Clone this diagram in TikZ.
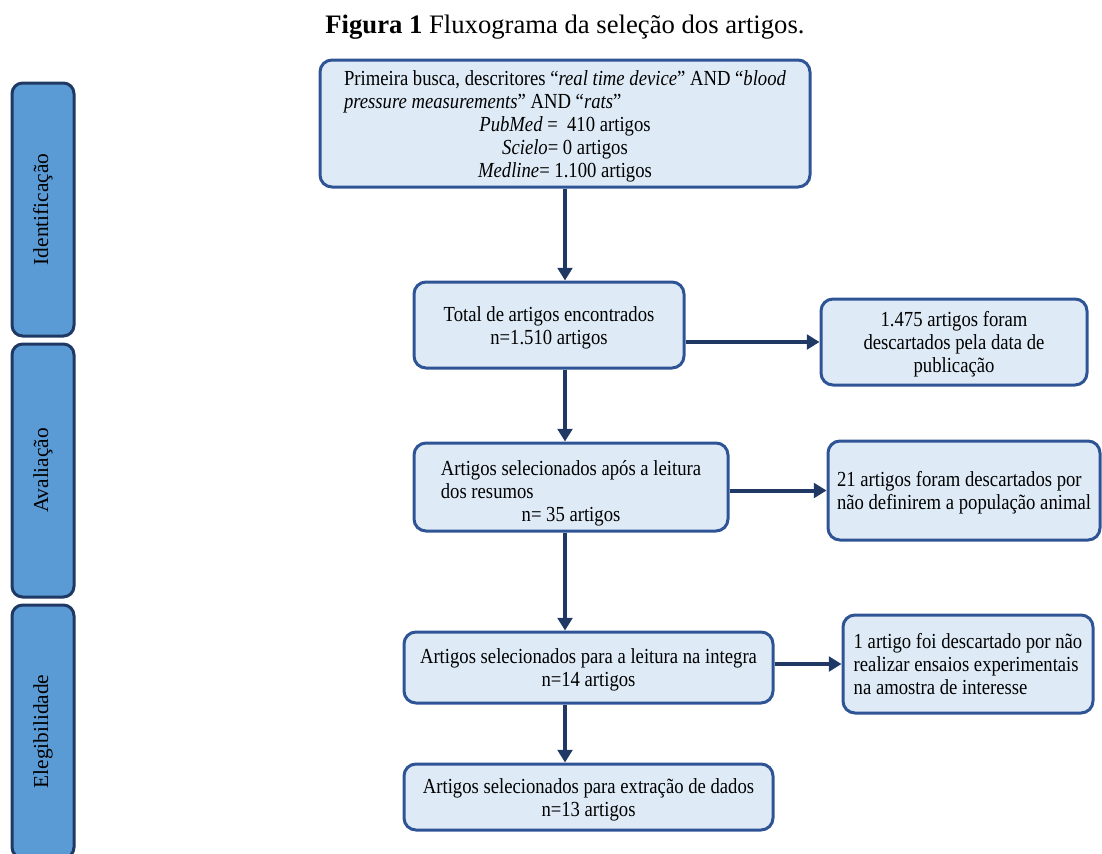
\documentclass[tikz,border=0pt]{standalone}
\usepackage{graphicx}
\usepackage{fontspec}
\setmainfont{Liberation Serif}
\usetikzlibrary{arrows.meta}
\definecolor{navy}{HTML}{1F3864}
\definecolor{boxedge}{HTML}{2F5496}
\definecolor{boxfill}{HTML}{DEEBF7}
\definecolor{barfill}{HTML}{5B9BD5}
\newcommand{\mystretch}[2][2.25pt]{\raisebox{-#1}[\height][\depth]{\scalebox{1}[1.15]{#2}}}
\tikzset{
  flowbox/.style={draw=boxedge, line width=2.25pt, fill=boxfill, rounded corners=9pt,
    inner sep=0pt, font=\fontsize{14}{15}\selectfont},
  sidebar/.style={draw=navy, line width=2.25pt, fill=barfill, rounded corners=8pt,
    inner sep=0pt, minimum width=46.5pt, minimum height=189.75pt},
  sidelabel/.style={rotate=90, font=\fontsize{16}{19}\selectfont, text=black},
  flowarrow/.style={draw=navy, line width=3pt, -{Triangle[width=11pt,length=9.5pt]}}
}
\begin{document}
\begin{tikzpicture}[x=0.75pt,y=-0.75pt]
\useasboundingbox (0,0) rectangle (1102,853);
\renewcommand{\arraystretch}{1}
\node (title) at (565,27) {\fontsize{20}{24}\selectfont\textbf{Figura 1} Fluxograma da seleção dos artigos.};

% side bars
\node[sidebar] (s1) at (43,209.5) {};
\node[sidelabel] (l1) at (s1.center) {Identificação};
\node[sidebar] (s2) at (43,470.5) {};
\node[sidelabel] (l2) at (s2.center) {Avaliação};
\node[sidebar] (s3) at (43,731.5) {};
\node[sidelabel] (l3) at (s3.center) {Elegibilidade};

% boxes
\node[flowbox, minimum width=367.5pt, minimum height=95.25pt] (b1) at (565,123.5)
  {\mystretch{\begin{tabular}{@{}l@{}}
   Primeira busca, descritores “\textit{real time device}” AND “\textit{blood}\\
   \textit{pressure measurements}” AND “\textit{rats}”\\
   \multicolumn{1}{@{}c@{}}{\textit{PubMed} =\ \ 410 artigos}\\
   \multicolumn{1}{@{}c@{}}{\textit{Scielo}= 0 artigos}\\
   \multicolumn{1}{@{}c@{}}{\textit{Medline}= 1.100 artigos}
   \end{tabular}}};
\node[flowbox, minimum width=202.5pt, minimum height=64.5pt] (b2) at (549,325)
  {\mystretch{\begin{tabular}{@{}c@{}}Total de artigos encontrados\\ n=1.510 artigos\end{tabular}}};
\node[flowbox, minimum width=199.5pt, minimum height=64.5pt] (b3) at (954,342)
  {\mystretch{\begin{tabular}{@{}c@{}}1.475 artigos foram\\ descartados pela data de\\ publicação\end{tabular}}};
\node[flowbox, minimum width=235.5pt, minimum height=66pt] (b4) at (571,487)
  {\mystretch[5.5pt]{\begin{tabular}{@{}l@{}}Artigos selecionados após a leitura\\ dos resumos\\
   \multicolumn{1}{@{}c@{}}{n= 35 artigos}\end{tabular}}};
\node[flowbox, minimum width=204pt, minimum height=74.25pt] (b5) at (964,490.5)
  {\mystretch{\begin{tabular}{@{}l@{}}21 artigos foram descartados por\\ não definirem a população animal\end{tabular}}};
\node[flowbox, minimum width=276.75pt, minimum height=53.25pt] (b6) at (588.5,667.5)
  {\mystretch{\begin{tabular}{@{}c@{}}Artigos selecionados para a leitura na integra\\ n=14 artigos\end{tabular}}};
\node[flowbox, minimum width=187.5pt, minimum height=73.5pt] (b7) at (968,664)
  {\mystretch{\begin{tabular}{@{}l@{}}1 artigo foi descartado por não\\ realizar ensaios experimentais\\ na amostra de interesse\end{tabular}}};
\node[flowbox, minimum width=276.75pt, minimum height=49.5pt] (b8) at (588.5,797)
  {\mystretch{\begin{tabular}{@{}c@{}}Artigos selecionados para extração de dados\\ n=13 artigos\end{tabular}}};

% connectors
\coordinate (ax) at (565,0);
\draw[flowarrow] (b1.south -| ax) -- (b2.north -| ax);
\draw[flowarrow] (b2.south -| ax) -- (b4.north -| ax);
\draw[flowarrow] (b4.south -| ax) -- (b6.north -| ax);
\draw[flowarrow] (b6.south -| ax) -- (b8.north -| ax);
\draw[flowarrow] (b2.east |- b3.west) -- (b3.west);
\draw[flowarrow] (b4.east |- b5.west) -- (b5.west);
\draw[flowarrow] (b6.east |- b7.west) -- (b7.west);
\end{tikzpicture}
\end{document}
